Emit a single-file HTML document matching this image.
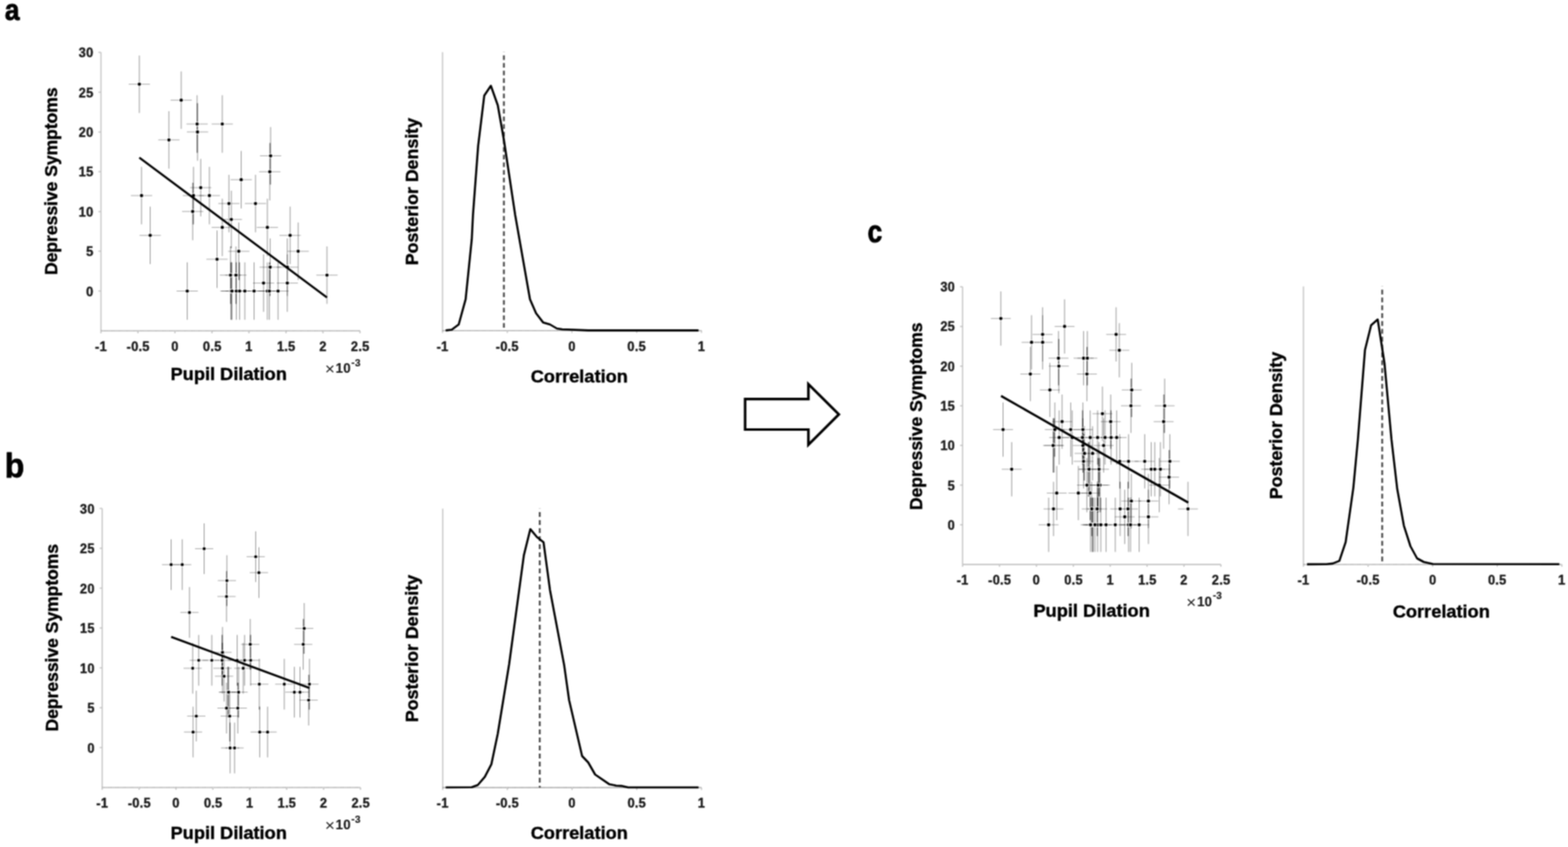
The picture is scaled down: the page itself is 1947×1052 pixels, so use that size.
<!DOCTYPE html>
<html lang="en">
<head>
<meta charset="utf-8">
<title>Pupil dilation and depressive symptoms</title>
<style>
html,body{margin:0;padding:0;background:#fff;}
body{width:1947px;height:1052px;overflow:hidden;}
svg{display:block;}
</style>
</head>
<body>
<svg width="1947" height="1052" viewBox="0 0 1947 1052" role="img" aria-label="Pupil dilation versus depressive symptoms with posterior densities of the correlation">
<defs><filter id="soft" filterUnits="userSpaceOnUse" x="0" y="0" width="1947" height="1052" color-interpolation-filters="sRGB"><feConvolveMatrix order="3" kernelMatrix="1 2 1 2 4 2 1 2 1" divisor="16" edgeMode="duplicate" preserveAlpha="false"/></filter></defs>
<g filter="url(#soft)">
<rect width="1947" height="1052" fill="#fff"/>
<g font-family='"Liberation Sans", sans-serif' font-weight="700" font-size="43" fill="#000">
<text transform="translate(6.0 25.4) scale(0.76 0.868)" stroke="#000" stroke-width="1.2" stroke-linejoin="round">a</text>
<text transform="translate(6.0 593.0) scale(0.925 0.975)" stroke="#000" stroke-width="0.8" stroke-linejoin="round">b</text>
<text transform="translate(1077.2 301.3) scale(0.76 0.895)" stroke="#000" stroke-width="1.2" stroke-linejoin="round">c</text>
</g>
<g id="pa">
<g stroke="#c4c4c4" stroke-width="1.5" fill="none">
<path d="M125.4 65.1V410.9"/>
<path d="M125.4 410.9H447" stroke="#8c8c8c" stroke-width="1.4" stroke-dasharray="1.3 0.5"/>
<path d="M125.4 410.9v3M171.34 410.9v3M217.29 410.9v3M263.23 410.9v3M309.17 410.9v3M355.11 410.9v3M401.06 410.9v3M447 410.9v3M125.4 361.5h-3.2M125.4 312.1h-3.2M125.4 262.7h-3.2M125.4 213.3h-3.2M125.4 163.9h-3.2M125.4 114.5h-3.2M125.4 65.1h-3.2"/>
</g>
<g font-family='"Liberation Sans", sans-serif' font-weight="700" font-size="15.8" letter-spacing="0.35" fill="#1c1c1c" stroke="#1c1c1c" stroke-width="0.45">
<g text-anchor="middle">
<text x="125.4" y="436">-1</text>
<text x="171.64" y="436">-0.5</text>
<text x="217.29" y="436">0</text>
<text x="263.53" y="436">0.5</text>
<text x="309.17" y="436">1</text>
<text x="355.41" y="436">1.5</text>
<text x="401.06" y="436">2</text>
<text x="447.3" y="436">2.5</text>
</g><g text-anchor="end">
<text x="116.1" y="367.5">0</text>
<text x="116.1" y="318.1">5</text>
<text x="116.1" y="268.7">10</text>
<text x="116.1" y="219.3">15</text>
<text x="116.1" y="169.9">20</text>
<text x="116.1" y="120.5">25</text>
<text x="116.1" y="71.1">30</text>
</g>
<text x="409.7" y="465.1" font-weight="400" font-size="21" text-anchor="middle" stroke="none">×</text>
<text x="416.7" y="462.5" font-size="16.4" stroke-width="0.2">10</text>
<text x="436.2" y="455.3" font-size="12.4" stroke-width="0.2">-3</text>
</g>
<g font-family='"Liberation Sans", sans-serif' font-weight="700" font-size="21.4" fill="#000" stroke="#000" stroke-width="0.45" text-anchor="middle">
<text x="284" y="471.6" textLength="144.5" lengthAdjust="spacingAndGlyphs">Pupil Dilation</text>
<text transform="translate(70.9 225) rotate(-90)" textLength="232.8" lengthAdjust="spacingAndGlyphs">Depressive Symptoms</text>
</g>
<g stroke="#000" stroke-opacity="0.82" stroke-width="0.5" fill="none">
<path d="M173 68.92v71.4"/>
<path d="M159.8 104.62h26.4" stroke-opacity="0.68"/>
<path d="M225 88.68v71.4"/>
<path d="M211.8 124.38h26.4" stroke-opacity="0.68"/>
<path d="M244.75 118.32v71.4"/>
<path d="M231.55 154.02h26.4" stroke-opacity="0.68"/>
<path d="M276 118.32v71.4"/>
<path d="M262.8 154.02h26.4" stroke-opacity="0.68"/>
<path d="M245.25 128.2v71.4"/>
<path d="M232.05 163.9h26.4" stroke-opacity="0.68"/>
<path d="M209.75 138.08v71.4"/>
<path d="M196.55 173.78h26.4" stroke-opacity="0.68"/>
<path d="M336 157.84v71.4"/>
<path d="M322.8 193.54h26.4" stroke-opacity="0.68"/>
<path d="M335 177.6v71.4"/>
<path d="M321.8 213.3h26.4" stroke-opacity="0.68"/>
<path d="M299.5 187.48v71.4"/>
<path d="M286.3 223.18h26.4" stroke-opacity="0.68"/>
<path d="M249.25 197.36v71.4"/>
<path d="M236.05 233.06h26.4" stroke-opacity="0.68"/>
<path d="M175.75 207.24v71.4"/>
<path d="M162.55 242.94h26.4" stroke-opacity="0.68"/>
<path d="M240.25 207.24v71.4"/>
<path d="M227.05 242.94h26.4" stroke-opacity="0.68"/>
<path d="M260 207.24v71.4"/>
<path d="M246.8 242.94h26.4" stroke-opacity="0.68"/>
<path d="M284.25 217.12v71.4"/>
<path d="M271.05 252.82h26.4" stroke-opacity="0.68"/>
<path d="M317.25 217.12v71.4"/>
<path d="M304.05 252.82h26.4" stroke-opacity="0.68"/>
<path d="M239.25 227v71.4"/>
<path d="M226.05 262.7h26.4" stroke-opacity="0.68"/>
<path d="M287.25 236.88v71.4"/>
<path d="M274.05 272.58h26.4" stroke-opacity="0.68"/>
<path d="M276 246.76v71.4"/>
<path d="M262.8 282.46h26.4" stroke-opacity="0.68"/>
<path d="M332 246.76v71.4"/>
<path d="M318.8 282.46h26.4" stroke-opacity="0.68"/>
<path d="M186.5 256.64v71.4"/>
<path d="M173.3 292.34h26.4" stroke-opacity="0.68"/>
<path d="M360.25 256.64v71.4"/>
<path d="M347.05 292.34h26.4" stroke-opacity="0.68"/>
<path d="M296.5 276.4v71.4"/>
<path d="M283.3 312.1h26.4" stroke-opacity="0.68"/>
<path d="M370.25 276.4v71.4"/>
<path d="M357.05 312.1h26.4" stroke-opacity="0.68"/>
<path d="M269.5 286.28v71.4"/>
<path d="M256.3 321.98h26.4" stroke-opacity="0.68"/>
<path d="M335.5 296.16v71.4"/>
<path d="M322.3 331.86h26.4" stroke-opacity="0.68"/>
<path d="M356.75 296.16v71.4"/>
<path d="M343.55 331.86h26.4" stroke-opacity="0.68"/>
<path d="M286.25 306.04v71.4"/>
<path d="M273.05 341.74h26.4" stroke-opacity="0.68"/>
<path d="M293 306.04v71.4"/>
<path d="M279.8 341.74h26.4" stroke-opacity="0.68"/>
<path d="M406 306.04v71.4"/>
<path d="M392.8 341.74h26.4" stroke-opacity="0.68"/>
<path d="M327.25 315.92v71.4"/>
<path d="M314.05 351.62h26.4" stroke-opacity="0.68"/>
<path d="M356.75 315.92v71.4"/>
<path d="M343.55 351.62h26.4" stroke-opacity="0.68"/>
<path d="M232.5 325.8v71.4"/>
<path d="M219.3 361.5h26.4" stroke-opacity="0.68"/>
<path d="M286.75 325.8v71.4"/>
<path d="M273.55 361.5h26.4" stroke-opacity="0.68"/>
<path d="M288 325.8v71.4"/>
<path d="M274.8 361.5h26.4" stroke-opacity="0.68"/>
<path d="M293.5 325.8v71.4"/>
<path d="M280.3 361.5h26.4" stroke-opacity="0.68"/>
<path d="M297.5 325.8v71.4"/>
<path d="M284.3 361.5h26.4" stroke-opacity="0.68"/>
<path d="M304 325.8v71.4"/>
<path d="M290.8 361.5h26.4" stroke-opacity="0.68"/>
<path d="M315.5 325.8v71.4"/>
<path d="M302.3 361.5h26.4" stroke-opacity="0.68"/>
<path d="M332 325.8v71.4"/>
<path d="M318.8 361.5h26.4" stroke-opacity="0.68"/>
<path d="M334.5 325.8v71.4"/>
<path d="M321.3 361.5h26.4" stroke-opacity="0.68"/>
<path d="M345.25 325.8v71.4"/>
<path d="M332.05 361.5h26.4" stroke-opacity="0.68"/>
</g>
<path d="M245 128.2V189.72M335.5 177.6V229.24M239.75 227V278.64M286.75 306.04V308.28M297 325.8V347.8M335 325.8V367.56M286.5 325.8V377.44M293.25 325.8V377.44M287.38 325.8V397.2" stroke="#000" stroke-opacity="0.42" stroke-width="1.0" fill="none"/>
<g fill="#000" stroke="#fff" stroke-width="1.5" paint-order="stroke">
<circle cx="173" cy="104.62" r="2.1"/>
<circle cx="225" cy="124.38" r="2.1"/>
<circle cx="244.75" cy="154.02" r="2.1"/>
<circle cx="276" cy="154.02" r="2.1"/>
<circle cx="245.25" cy="163.9" r="2.1"/>
<circle cx="209.75" cy="173.78" r="2.1"/>
<circle cx="336" cy="193.54" r="2.1"/>
<circle cx="335" cy="213.3" r="2.1"/>
<circle cx="299.5" cy="223.18" r="2.1"/>
<circle cx="249.25" cy="233.06" r="2.1"/>
<circle cx="175.75" cy="242.94" r="2.1"/>
<circle cx="240.25" cy="242.94" r="2.1"/>
<circle cx="260" cy="242.94" r="2.1"/>
<circle cx="284.25" cy="252.82" r="2.1"/>
<circle cx="317.25" cy="252.82" r="2.1"/>
<circle cx="239.25" cy="262.7" r="2.1"/>
<circle cx="287.25" cy="272.58" r="2.1"/>
<circle cx="276" cy="282.46" r="2.1"/>
<circle cx="332" cy="282.46" r="2.1"/>
<circle cx="186.5" cy="292.34" r="2.1"/>
<circle cx="360.25" cy="292.34" r="2.1"/>
<circle cx="296.5" cy="312.1" r="2.1"/>
<circle cx="370.25" cy="312.1" r="2.1"/>
<circle cx="269.5" cy="321.98" r="2.1"/>
<circle cx="335.5" cy="331.86" r="2.1"/>
<circle cx="356.75" cy="331.86" r="2.1"/>
<circle cx="286.25" cy="341.74" r="2.1"/>
<circle cx="293" cy="341.74" r="2.1"/>
<circle cx="406" cy="341.74" r="2.1"/>
<circle cx="327.25" cy="351.62" r="2.1"/>
<circle cx="356.75" cy="351.62" r="2.1"/>
<circle cx="232.5" cy="361.5" r="2.1"/>
<circle cx="286.75" cy="361.5" r="2.1"/>
<circle cx="288" cy="361.5" r="2.1"/>
<circle cx="293.5" cy="361.5" r="2.1"/>
<circle cx="297.5" cy="361.5" r="2.1"/>
<circle cx="304" cy="361.5" r="2.1"/>
<circle cx="315.5" cy="361.5" r="2.1"/>
<circle cx="332" cy="361.5" r="2.1"/>
<circle cx="334.5" cy="361.5" r="2.1"/>
<circle cx="345.25" cy="361.5" r="2.1"/>
</g>
<path d="M173 195.75L406 369.5" stroke="#000" stroke-width="2.7" fill="none"/>
<g stroke="#c4c4c4" stroke-width="1.5" fill="none">
<path d="M549.5 64.8V413.6"/>
<path d="M549.5 410.6H871" stroke="#8c8c8c" stroke-width="1.4" stroke-dasharray="1.3 0.5"/>
<path d="M629.88 410.6v3M710.25 410.6v3M790.62 410.6v3M871 410.6v3"/>
</g>
<path d="M625.7 64.8V410.6" stroke="#4a4a4a" stroke-width="2.3" stroke-dasharray="5.8 3.7" stroke-dashoffset="5.6" fill="none"/>
<polyline points="553.4,410.4 560.9,409.5 569.6,403 578.2,371.7 585.8,297.2 587.3,267 593.7,181.4 601.3,118.8 609.5,106.5 618.1,130.7 625.7,173.8 639.7,267 658.1,371.7 665.6,389 674.3,400.4 682.9,403 691.5,408 698,409 730.4,410.4 867.4,410.4" stroke="#000" stroke-width="2.6" stroke-linejoin="round" fill="none"/>
<g font-family='"Liberation Sans", sans-serif' font-weight="700" font-size="15.8" letter-spacing="0.35" fill="#1c1c1c" stroke="#1c1c1c" stroke-width="0.45" text-anchor="middle">
<text x="549.5" y="435.7">-1</text>
<text x="629.88" y="435.7">-0.5</text>
<text x="710.25" y="435.7">0</text>
<text x="790.62" y="435.7">0.5</text>
<text x="871" y="435.7">1</text>
</g>
<g font-family='"Liberation Sans", sans-serif' font-weight="700" font-size="21.4" fill="#000" stroke="#000" stroke-width="0.45" text-anchor="middle">
<text x="719.3" y="474.7" textLength="120.5" lengthAdjust="spacingAndGlyphs">Correlation</text>
<text transform="translate(518.6 238) rotate(-90)" textLength="183" lengthAdjust="spacingAndGlyphs">Posterior Density</text>
</g>
</g>
<g id="pb">
<g stroke="#c4c4c4" stroke-width="1.5" fill="none">
<path d="M126.9 631.6V978.1"/>
<path d="M126.9 978.1H447.6" stroke="#8c8c8c" stroke-width="1.4" stroke-dasharray="1.3 0.5"/>
<path d="M126.9 978.1v3M172.71 978.1v3M218.53 978.1v3M264.34 978.1v3M310.16 978.1v3M355.97 978.1v3M401.79 978.1v3M447.6 978.1v3M126.9 928.6h-3.2M126.9 879.1h-3.2M126.9 829.6h-3.2M126.9 780.1h-3.2M126.9 730.6h-3.2M126.9 681.1h-3.2M126.9 631.6h-3.2"/>
</g>
<g font-family='"Liberation Sans", sans-serif' font-weight="700" font-size="15.8" letter-spacing="0.35" fill="#1c1c1c" stroke="#1c1c1c" stroke-width="0.45">
<g text-anchor="middle">
<text x="126.9" y="1003.2">-1</text>
<text x="173.01" y="1003.2">-0.5</text>
<text x="218.53" y="1003.2">0</text>
<text x="264.64" y="1003.2">0.5</text>
<text x="310.16" y="1003.2">1</text>
<text x="356.27" y="1003.2">1.5</text>
<text x="401.79" y="1003.2">2</text>
<text x="447.9" y="1003.2">2.5</text>
</g><g text-anchor="end">
<text x="117.6" y="934.6">0</text>
<text x="117.6" y="885.1">5</text>
<text x="117.6" y="835.6">10</text>
<text x="117.6" y="786.1">15</text>
<text x="117.6" y="736.6">20</text>
<text x="117.6" y="687.1">25</text>
<text x="117.6" y="637.6">30</text>
</g>
<text x="409.7" y="1032.1" font-weight="400" font-size="21" text-anchor="middle" stroke="none">×</text>
<text x="416.7" y="1029.5" font-size="16.4" stroke-width="0.2">10</text>
<text x="436.2" y="1022.3" font-size="12.4" stroke-width="0.2">-3</text>
</g>
<g font-family='"Liberation Sans", sans-serif' font-weight="700" font-size="21.4" fill="#000" stroke="#000" stroke-width="0.45" text-anchor="middle">
<text x="284" y="1042.3" textLength="144.5" lengthAdjust="spacingAndGlyphs">Pupil Dilation</text>
<text transform="translate(71.6 792) rotate(-90)" textLength="232.8" lengthAdjust="spacingAndGlyphs">Depressive Symptoms</text>
</g>
<g stroke="#000" stroke-opacity="0.82" stroke-width="0.5" fill="none">
<path d="M212.5 669.8v63"/>
<path d="M201.2 701.3h22.6" stroke-opacity="0.68"/>
<path d="M226.25 669.8v63"/>
<path d="M214.95 701.3h22.6" stroke-opacity="0.68"/>
<path d="M253.5 650v63"/>
<path d="M242.2 681.5h22.6" stroke-opacity="0.68"/>
<path d="M317.5 659.9v63"/>
<path d="M306.2 691.4h22.6" stroke-opacity="0.68"/>
<path d="M321.5 679.7v63"/>
<path d="M310.2 711.2h22.6" stroke-opacity="0.68"/>
<path d="M281.75 689.6v63"/>
<path d="M270.45 721.1h22.6" stroke-opacity="0.68"/>
<path d="M281.25 709.4v63"/>
<path d="M269.95 740.9h22.6" stroke-opacity="0.68"/>
<path d="M235.25 729.2v63"/>
<path d="M223.95 760.7h22.6" stroke-opacity="0.68"/>
<path d="M377.75 749v63"/>
<path d="M366.45 780.5h22.6" stroke-opacity="0.68"/>
<path d="M310.75 768.8v63"/>
<path d="M299.45 800.3h22.6" stroke-opacity="0.68"/>
<path d="M376.5 768.8v63"/>
<path d="M365.2 800.3h22.6" stroke-opacity="0.68"/>
<path d="M276.25 778.7v63"/>
<path d="M264.95 810.2h22.6" stroke-opacity="0.68"/>
<path d="M246.75 788.6v63"/>
<path d="M235.45 820.1h22.6" stroke-opacity="0.68"/>
<path d="M263 788.6v63"/>
<path d="M251.7 820.1h22.6" stroke-opacity="0.68"/>
<path d="M275.75 788.6v63"/>
<path d="M264.45 820.1h22.6" stroke-opacity="0.68"/>
<path d="M294.5 788.6v63"/>
<path d="M283.2 820.1h22.6" stroke-opacity="0.68"/>
<path d="M303.75 788.6v63"/>
<path d="M292.45 820.1h22.6" stroke-opacity="0.68"/>
<path d="M311.25 788.6v63"/>
<path d="M299.95 820.1h22.6" stroke-opacity="0.68"/>
<path d="M239.25 798.5v63"/>
<path d="M227.95 830h22.6" stroke-opacity="0.68"/>
<path d="M276.25 798.5v63"/>
<path d="M264.95 830h22.6" stroke-opacity="0.68"/>
<path d="M302 798.5v63"/>
<path d="M290.7 830h22.6" stroke-opacity="0.68"/>
<path d="M278.25 808.4v63"/>
<path d="M266.95 839.9h22.6" stroke-opacity="0.68"/>
<path d="M322 818.3v63"/>
<path d="M310.7 849.8h22.6" stroke-opacity="0.68"/>
<path d="M353 818.3v63"/>
<path d="M341.7 849.8h22.6" stroke-opacity="0.68"/>
<path d="M384.25 818.3v63"/>
<path d="M372.95 849.8h22.6" stroke-opacity="0.68"/>
<path d="M282.9 828.2v63"/>
<path d="M271.6 859.7h22.6" stroke-opacity="0.68"/>
<path d="M283.9 828.2v63"/>
<path d="M272.6 859.7h22.6" stroke-opacity="0.68"/>
<path d="M296.25 828.2v63"/>
<path d="M284.95 859.7h22.6" stroke-opacity="0.68"/>
<path d="M365.5 828.2v63"/>
<path d="M354.2 859.7h22.6" stroke-opacity="0.68"/>
<path d="M372.5 828.2v63"/>
<path d="M361.2 859.7h22.6" stroke-opacity="0.68"/>
<path d="M383.25 838.1v63"/>
<path d="M371.95 869.6h22.6" stroke-opacity="0.68"/>
<path d="M281.25 848v63"/>
<path d="M269.95 879.5h22.6" stroke-opacity="0.68"/>
<path d="M295.25 848v63"/>
<path d="M283.95 879.5h22.6" stroke-opacity="0.68"/>
<path d="M243.75 857.9v63"/>
<path d="M232.45 889.4h22.6" stroke-opacity="0.68"/>
<path d="M285.25 857.9v63"/>
<path d="M273.95 889.4h22.6" stroke-opacity="0.68"/>
<path d="M239.75 877.7v63"/>
<path d="M228.45 909.2h22.6" stroke-opacity="0.68"/>
<path d="M322.5 877.7v63"/>
<path d="M311.2 909.2h22.6" stroke-opacity="0.68"/>
<path d="M332.25 877.7v63"/>
<path d="M320.95 909.2h22.6" stroke-opacity="0.68"/>
<path d="M285.75 897.5v63"/>
<path d="M274.45 929h22.6" stroke-opacity="0.68"/>
<path d="M291.25 897.5v63"/>
<path d="M279.95 929h22.6" stroke-opacity="0.68"/>
</g>
<path d="M281.5 709.4V752.6M377.12 768.8V812M311 788.6V831.8M276 788.6V841.7M276 798.5V851.6M294.88 848V851.6M322.25 877.7V881.3M383.75 838.1V881.3M283.4 828.2V891.2M295.75 848V891.2M285.5 897.5V920.9" stroke="#000" stroke-opacity="0.42" stroke-width="1.0" fill="none"/>
<g fill="#000" stroke="#fff" stroke-width="1.5" paint-order="stroke">
<circle cx="212.5" cy="701.3" r="1.95"/>
<circle cx="226.25" cy="701.3" r="1.95"/>
<circle cx="253.5" cy="681.5" r="1.95"/>
<circle cx="317.5" cy="691.4" r="1.95"/>
<circle cx="321.5" cy="711.2" r="1.95"/>
<circle cx="281.75" cy="721.1" r="1.95"/>
<circle cx="281.25" cy="740.9" r="1.95"/>
<circle cx="235.25" cy="760.7" r="1.95"/>
<circle cx="377.75" cy="780.5" r="1.95"/>
<circle cx="310.75" cy="800.3" r="1.95"/>
<circle cx="376.5" cy="800.3" r="1.95"/>
<circle cx="276.25" cy="810.2" r="1.95"/>
<circle cx="246.75" cy="820.1" r="1.95"/>
<circle cx="263" cy="820.1" r="1.95"/>
<circle cx="275.75" cy="820.1" r="1.95"/>
<circle cx="294.5" cy="820.1" r="1.95"/>
<circle cx="303.75" cy="820.1" r="1.95"/>
<circle cx="311.25" cy="820.1" r="1.95"/>
<circle cx="239.25" cy="830" r="1.95"/>
<circle cx="276.25" cy="830" r="1.95"/>
<circle cx="302" cy="830" r="1.95"/>
<circle cx="278.25" cy="839.9" r="1.95"/>
<circle cx="322" cy="849.8" r="1.95"/>
<circle cx="353" cy="849.8" r="1.95"/>
<circle cx="384.25" cy="849.8" r="1.95"/>
<circle cx="282.9" cy="859.7" r="1.95"/>
<circle cx="283.9" cy="859.7" r="1.95"/>
<circle cx="296.25" cy="859.7" r="1.95"/>
<circle cx="365.5" cy="859.7" r="1.95"/>
<circle cx="372.5" cy="859.7" r="1.95"/>
<circle cx="383.25" cy="869.6" r="1.95"/>
<circle cx="281.25" cy="879.5" r="1.95"/>
<circle cx="295.25" cy="879.5" r="1.95"/>
<circle cx="243.75" cy="889.4" r="1.95"/>
<circle cx="285.25" cy="889.4" r="1.95"/>
<circle cx="239.75" cy="909.2" r="1.95"/>
<circle cx="322.5" cy="909.2" r="1.95"/>
<circle cx="332.25" cy="909.2" r="1.95"/>
<circle cx="285.75" cy="929" r="1.95"/>
<circle cx="291.25" cy="929" r="1.95"/>
</g>
<path d="M212.5 791L384.25 854.5" stroke="#000" stroke-width="2.7" fill="none"/>
<g stroke="#c4c4c4" stroke-width="1.5" fill="none">
<path d="M549.7 631.7V981.2"/>
<path d="M549.7 978.2H871" stroke="#8c8c8c" stroke-width="1.4" stroke-dasharray="1.3 0.5"/>
<path d="M630.03 978.2v3M710.35 978.2v3M790.67 978.2v3M871 978.2v3"/>
</g>
<path d="M670.2 631.7V978.2" stroke="#4a4a4a" stroke-width="2.3" stroke-dasharray="5.8 4.2" stroke-dashoffset="5.6" fill="none"/>
<polyline points="553.4,978 585.8,977.8 593.3,975 602,964.9 610.2,949.1 618.1,911.3 632.2,825 650.5,689.6 658.5,657.2 666.7,667 674.9,673.4 682.9,732.7 700.6,826.6 706.6,869.2 722.8,939 730.4,947 739,962 756.3,973.9 764.9,975.7 771.4,976.1 780,978 867.4,978" stroke="#000" stroke-width="2.6" stroke-linejoin="round" fill="none"/>
<g font-family='"Liberation Sans", sans-serif' font-weight="700" font-size="15.8" letter-spacing="0.35" fill="#1c1c1c" stroke="#1c1c1c" stroke-width="0.45" text-anchor="middle">
<text x="549.7" y="1003.3">-1</text>
<text x="630.03" y="1003.3">-0.5</text>
<text x="710.35" y="1003.3">0</text>
<text x="790.67" y="1003.3">0.5</text>
<text x="871" y="1003.3">1</text>
</g>
<g font-family='"Liberation Sans", sans-serif' font-weight="700" font-size="21.4" fill="#000" stroke="#000" stroke-width="0.45" text-anchor="middle">
<text x="719.3" y="1041.7" textLength="120.5" lengthAdjust="spacingAndGlyphs">Correlation</text>
<text transform="translate(518.6 805.5) rotate(-90)" textLength="183" lengthAdjust="spacingAndGlyphs">Posterior Density</text>
</g>
</g>
<g id="pc">
<g stroke="#c4c4c4" stroke-width="1.5" fill="none">
<path d="M1195.3 356.2V701.1"/>
<path d="M1195.3 701.1H1516" stroke-width="1.7"/>
<path d="M1195.3 701.1v3M1241.11 701.1v3M1286.93 701.1v3M1332.74 701.1v3M1378.56 701.1v3M1424.37 701.1v3M1470.19 701.1v3M1516 701.1v3M1195.3 651.83h-3.2M1195.3 602.56h-3.2M1195.3 553.29h-3.2M1195.3 504.01h-3.2M1195.3 454.74h-3.2M1195.3 405.47h-3.2M1195.3 356.2h-3.2"/>
</g>
<g font-family='"Liberation Sans", sans-serif' font-weight="700" font-size="15.8" letter-spacing="0.35" fill="#1c1c1c" stroke="#1c1c1c" stroke-width="0.45">
<g text-anchor="middle">
<text x="1195.3" y="726.2">-1</text>
<text x="1241.41" y="726.2">-0.5</text>
<text x="1286.93" y="726.2">0</text>
<text x="1333.04" y="726.2">0.5</text>
<text x="1378.56" y="726.2">1</text>
<text x="1424.67" y="726.2">1.5</text>
<text x="1470.19" y="726.2">2</text>
<text x="1516.3" y="726.2">2.5</text>
</g><g text-anchor="end">
<text x="1186" y="657.83">0</text>
<text x="1186" y="608.56">5</text>
<text x="1186" y="559.29">10</text>
<text x="1186" y="510.01">15</text>
<text x="1186" y="460.74">20</text>
<text x="1186" y="411.47">25</text>
<text x="1186" y="362.2">30</text>
</g>
<text x="1479.4" y="755.3" font-weight="400" font-size="21" text-anchor="middle" stroke="none">×</text>
<text x="1486.4" y="752.7" font-size="16.4" stroke-width="0.2">10</text>
<text x="1505.9" y="744.1" font-size="12.4" stroke-width="0.2">-3</text>
</g>
<g font-family='"Liberation Sans", sans-serif' font-weight="700" font-size="21.4" fill="#000" stroke="#000" stroke-width="0.45" text-anchor="middle">
<text x="1355.5" y="766" textLength="144.5" lengthAdjust="spacingAndGlyphs">Pupil Dilation</text>
<text transform="translate(1145.1 517) rotate(-90)" textLength="232.8" lengthAdjust="spacingAndGlyphs">Depressive Symptoms</text>
</g>
<g stroke="#000" stroke-opacity="0.82" stroke-width="0.5" fill="none">
<path d="M1242.77 361.92v67.4"/>
<path d="M1230.42 395.62h24.7" stroke-opacity="0.68"/>
<path d="M1294.62 381.63v67.4"/>
<path d="M1282.27 415.33h24.7" stroke-opacity="0.68"/>
<path d="M1314.32 411.19v67.4"/>
<path d="M1301.97 444.89h24.7" stroke-opacity="0.68"/>
<path d="M1345.48 411.19v67.4"/>
<path d="M1333.13 444.89h24.7" stroke-opacity="0.68"/>
<path d="M1314.81 421.04v67.4"/>
<path d="M1302.46 454.74h24.7" stroke-opacity="0.68"/>
<path d="M1279.41 430.9v67.4"/>
<path d="M1267.06 464.6h24.7" stroke-opacity="0.68"/>
<path d="M1405.31 450.61v67.4"/>
<path d="M1392.96 484.31h24.7" stroke-opacity="0.68"/>
<path d="M1404.31 470.31v67.4"/>
<path d="M1391.96 504.01h24.7" stroke-opacity="0.68"/>
<path d="M1368.91 480.17v67.4"/>
<path d="M1356.56 513.87h24.7" stroke-opacity="0.68"/>
<path d="M1318.8 490.02v67.4"/>
<path d="M1306.45 523.72h24.7" stroke-opacity="0.68"/>
<path d="M1245.51 499.88v67.4"/>
<path d="M1233.16 533.58h24.7" stroke-opacity="0.68"/>
<path d="M1309.83 499.88v67.4"/>
<path d="M1297.48 533.58h24.7" stroke-opacity="0.68"/>
<path d="M1329.52 499.88v67.4"/>
<path d="M1317.17 533.58h24.7" stroke-opacity="0.68"/>
<path d="M1353.71 509.73v67.4"/>
<path d="M1341.36 543.43h24.7" stroke-opacity="0.68"/>
<path d="M1386.61 509.73v67.4"/>
<path d="M1374.26 543.43h24.7" stroke-opacity="0.68"/>
<path d="M1308.83 519.59v67.4"/>
<path d="M1296.48 553.29h24.7" stroke-opacity="0.68"/>
<path d="M1356.7 529.44v67.4"/>
<path d="M1344.35 563.14h24.7" stroke-opacity="0.68"/>
<path d="M1345.48 539.29v67.4"/>
<path d="M1333.13 572.99h24.7" stroke-opacity="0.68"/>
<path d="M1401.32 539.29v67.4"/>
<path d="M1388.97 572.99h24.7" stroke-opacity="0.68"/>
<path d="M1256.23 549.15v67.4"/>
<path d="M1243.88 582.85h24.7" stroke-opacity="0.68"/>
<path d="M1429.49 549.15v67.4"/>
<path d="M1417.14 582.85h24.7" stroke-opacity="0.68"/>
<path d="M1365.92 568.86v67.4"/>
<path d="M1353.57 602.56h24.7" stroke-opacity="0.68"/>
<path d="M1439.46 568.86v67.4"/>
<path d="M1427.11 602.56h24.7" stroke-opacity="0.68"/>
<path d="M1339 578.71v67.4"/>
<path d="M1326.65 612.41h24.7" stroke-opacity="0.68"/>
<path d="M1404.81 588.57v67.4"/>
<path d="M1392.46 622.27h24.7" stroke-opacity="0.68"/>
<path d="M1426 588.57v67.4"/>
<path d="M1413.65 622.27h24.7" stroke-opacity="0.68"/>
<path d="M1355.7 598.42v67.4"/>
<path d="M1343.35 632.12h24.7" stroke-opacity="0.68"/>
<path d="M1362.43 598.42v67.4"/>
<path d="M1350.08 632.12h24.7" stroke-opacity="0.68"/>
<path d="M1475.11 598.42v67.4"/>
<path d="M1462.76 632.12h24.7" stroke-opacity="0.68"/>
<path d="M1396.59 608.27v67.4"/>
<path d="M1384.24 641.97h24.7" stroke-opacity="0.68"/>
<path d="M1426 608.27v67.4"/>
<path d="M1413.65 641.97h24.7" stroke-opacity="0.68"/>
<path d="M1302.1 618.13v67.4"/>
<path d="M1289.75 651.83h24.7" stroke-opacity="0.68"/>
<path d="M1356.2 618.13v67.4"/>
<path d="M1343.85 651.83h24.7" stroke-opacity="0.68"/>
<path d="M1357.44 618.13v67.4"/>
<path d="M1345.09 651.83h24.7" stroke-opacity="0.68"/>
<path d="M1362.93 618.13v67.4"/>
<path d="M1350.58 651.83h24.7" stroke-opacity="0.68"/>
<path d="M1366.92 618.13v67.4"/>
<path d="M1354.57 651.83h24.7" stroke-opacity="0.68"/>
<path d="M1373.4 618.13v67.4"/>
<path d="M1361.05 651.83h24.7" stroke-opacity="0.68"/>
<path d="M1384.87 618.13v67.4"/>
<path d="M1372.52 651.83h24.7" stroke-opacity="0.68"/>
<path d="M1401.32 618.13v67.4"/>
<path d="M1388.97 651.83h24.7" stroke-opacity="0.68"/>
<path d="M1403.81 618.13v67.4"/>
<path d="M1391.46 651.83h24.7" stroke-opacity="0.68"/>
<path d="M1414.53 618.13v67.4"/>
<path d="M1402.18 651.83h24.7" stroke-opacity="0.68"/>
<path d="M1280.9 391.48v67.4"/>
<path d="M1268.55 425.18h24.7" stroke-opacity="0.68"/>
<path d="M1294.65 391.48v67.4"/>
<path d="M1282.3 425.18h24.7" stroke-opacity="0.68"/>
<path d="M1321.9 371.77v67.4"/>
<path d="M1309.55 405.47h24.7" stroke-opacity="0.68"/>
<path d="M1385.9 381.63v67.4"/>
<path d="M1373.55 415.33h24.7" stroke-opacity="0.68"/>
<path d="M1389.9 401.33v67.4"/>
<path d="M1377.55 435.03h24.7" stroke-opacity="0.68"/>
<path d="M1350.15 411.19v67.4"/>
<path d="M1337.8 444.89h24.7" stroke-opacity="0.68"/>
<path d="M1349.65 430.9v67.4"/>
<path d="M1337.3 464.6h24.7" stroke-opacity="0.68"/>
<path d="M1303.65 450.61v67.4"/>
<path d="M1291.3 484.31h24.7" stroke-opacity="0.68"/>
<path d="M1446.15 470.31v67.4"/>
<path d="M1433.8 504.01h24.7" stroke-opacity="0.68"/>
<path d="M1379.15 490.02v67.4"/>
<path d="M1366.8 523.72h24.7" stroke-opacity="0.68"/>
<path d="M1444.9 490.02v67.4"/>
<path d="M1432.55 523.72h24.7" stroke-opacity="0.68"/>
<path d="M1344.65 499.88v67.4"/>
<path d="M1332.3 533.58h24.7" stroke-opacity="0.68"/>
<path d="M1315.15 509.73v67.4"/>
<path d="M1302.8 543.43h24.7" stroke-opacity="0.68"/>
<path d="M1331.4 509.73v67.4"/>
<path d="M1319.05 543.43h24.7" stroke-opacity="0.68"/>
<path d="M1344.15 509.73v67.4"/>
<path d="M1331.8 543.43h24.7" stroke-opacity="0.68"/>
<path d="M1362.9 509.73v67.4"/>
<path d="M1350.55 543.43h24.7" stroke-opacity="0.68"/>
<path d="M1372.15 509.73v67.4"/>
<path d="M1359.8 543.43h24.7" stroke-opacity="0.68"/>
<path d="M1379.65 509.73v67.4"/>
<path d="M1367.3 543.43h24.7" stroke-opacity="0.68"/>
<path d="M1307.65 519.59v67.4"/>
<path d="M1295.3 553.29h24.7" stroke-opacity="0.68"/>
<path d="M1344.65 519.59v67.4"/>
<path d="M1332.3 553.29h24.7" stroke-opacity="0.68"/>
<path d="M1370.4 519.59v67.4"/>
<path d="M1358.05 553.29h24.7" stroke-opacity="0.68"/>
<path d="M1346.65 529.44v67.4"/>
<path d="M1334.3 563.14h24.7" stroke-opacity="0.68"/>
<path d="M1390.4 539.29v67.4"/>
<path d="M1378.05 572.99h24.7" stroke-opacity="0.68"/>
<path d="M1421.4 539.29v67.4"/>
<path d="M1409.05 572.99h24.7" stroke-opacity="0.68"/>
<path d="M1452.65 539.29v67.4"/>
<path d="M1440.3 572.99h24.7" stroke-opacity="0.68"/>
<path d="M1351.3 549.15v67.4"/>
<path d="M1338.95 582.85h24.7" stroke-opacity="0.68"/>
<path d="M1352.3 549.15v67.4"/>
<path d="M1339.95 582.85h24.7" stroke-opacity="0.68"/>
<path d="M1364.65 549.15v67.4"/>
<path d="M1352.3 582.85h24.7" stroke-opacity="0.68"/>
<path d="M1433.9 549.15v67.4"/>
<path d="M1421.55 582.85h24.7" stroke-opacity="0.68"/>
<path d="M1440.9 549.15v67.4"/>
<path d="M1428.55 582.85h24.7" stroke-opacity="0.68"/>
<path d="M1451.65 559v67.4"/>
<path d="M1439.3 592.7h24.7" stroke-opacity="0.68"/>
<path d="M1349.65 568.86v67.4"/>
<path d="M1337.3 602.56h24.7" stroke-opacity="0.68"/>
<path d="M1363.65 568.86v67.4"/>
<path d="M1351.3 602.56h24.7" stroke-opacity="0.68"/>
<path d="M1312.15 578.71v67.4"/>
<path d="M1299.8 612.41h24.7" stroke-opacity="0.68"/>
<path d="M1353.65 578.71v67.4"/>
<path d="M1341.3 612.41h24.7" stroke-opacity="0.68"/>
<path d="M1308.15 598.42v67.4"/>
<path d="M1295.8 632.12h24.7" stroke-opacity="0.68"/>
<path d="M1390.9 598.42v67.4"/>
<path d="M1378.55 632.12h24.7" stroke-opacity="0.68"/>
<path d="M1400.65 598.42v67.4"/>
<path d="M1388.3 632.12h24.7" stroke-opacity="0.68"/>
<path d="M1354.15 618.13v67.4"/>
<path d="M1341.8 651.83h24.7" stroke-opacity="0.68"/>
<path d="M1359.65 618.13v67.4"/>
<path d="M1347.3 651.83h24.7" stroke-opacity="0.68"/>
</g>
<path d="M1314.57 421.04V478.59M1404.81 470.31V518.01M1309.33 519.59V567.28M1308.24 519.59V586.99M1345.06 539.29V567.28M1345.06 539.29V586.99M1346.06 539.29V596.84M1400.99 598.42V606.69M1366.42 618.13V636.26M1365.29 568.86V616.55M1404.31 618.13V655.97M1355.95 618.13V665.82M1362.68 618.13V665.82M1363.04 598.42V636.26M1356.82 618.13V685.53M1363.29 618.13V636.26M1400.99 618.13V665.82M1349.9 430.9V478.59M1445.52 490.02V537.71M1379.4 509.73V557.42M1344.4 509.73V567.28M1344.4 519.59V577.13M1363.27 568.86V577.13M1390.65 598.42V606.69M1452.15 559V606.69M1351.8 549.15V616.55M1364.15 568.86V616.55M1353.9 618.13V646.11" stroke="#000" stroke-opacity="0.42" stroke-width="1.0" fill="none"/>
<g fill="#000" stroke="#fff" stroke-width="1.5" paint-order="stroke">
<circle cx="1242.77" cy="395.62" r="2.1"/>
<circle cx="1294.62" cy="415.33" r="2.1"/>
<circle cx="1314.32" cy="444.89" r="2.1"/>
<circle cx="1345.48" cy="444.89" r="2.1"/>
<circle cx="1314.81" cy="454.74" r="2.1"/>
<circle cx="1279.41" cy="464.6" r="2.1"/>
<circle cx="1405.31" cy="484.31" r="2.1"/>
<circle cx="1404.31" cy="504.01" r="2.1"/>
<circle cx="1368.91" cy="513.87" r="2.1"/>
<circle cx="1318.8" cy="523.72" r="2.1"/>
<circle cx="1245.51" cy="533.58" r="2.1"/>
<circle cx="1309.83" cy="533.58" r="2.1"/>
<circle cx="1329.52" cy="533.58" r="2.1"/>
<circle cx="1353.71" cy="543.43" r="2.1"/>
<circle cx="1386.61" cy="543.43" r="2.1"/>
<circle cx="1308.83" cy="553.29" r="2.1"/>
<circle cx="1356.7" cy="563.14" r="2.1"/>
<circle cx="1345.48" cy="572.99" r="2.1"/>
<circle cx="1401.32" cy="572.99" r="2.1"/>
<circle cx="1256.23" cy="582.85" r="2.1"/>
<circle cx="1429.49" cy="582.85" r="2.1"/>
<circle cx="1365.92" cy="602.56" r="2.1"/>
<circle cx="1439.46" cy="602.56" r="2.1"/>
<circle cx="1339" cy="612.41" r="2.1"/>
<circle cx="1404.81" cy="622.27" r="2.1"/>
<circle cx="1426" cy="622.27" r="2.1"/>
<circle cx="1355.7" cy="632.12" r="2.1"/>
<circle cx="1362.43" cy="632.12" r="2.1"/>
<circle cx="1475.11" cy="632.12" r="2.1"/>
<circle cx="1396.59" cy="641.97" r="2.1"/>
<circle cx="1426" cy="641.97" r="2.1"/>
<circle cx="1302.1" cy="651.83" r="2.1"/>
<circle cx="1356.2" cy="651.83" r="2.1"/>
<circle cx="1357.44" cy="651.83" r="2.1"/>
<circle cx="1362.93" cy="651.83" r="2.1"/>
<circle cx="1366.92" cy="651.83" r="2.1"/>
<circle cx="1373.4" cy="651.83" r="2.1"/>
<circle cx="1384.87" cy="651.83" r="2.1"/>
<circle cx="1401.32" cy="651.83" r="2.1"/>
<circle cx="1403.81" cy="651.83" r="2.1"/>
<circle cx="1414.53" cy="651.83" r="2.1"/>
<circle cx="1280.9" cy="425.18" r="2.1"/>
<circle cx="1294.65" cy="425.18" r="2.1"/>
<circle cx="1321.9" cy="405.47" r="2.1"/>
<circle cx="1385.9" cy="415.33" r="2.1"/>
<circle cx="1389.9" cy="435.03" r="2.1"/>
<circle cx="1350.15" cy="444.89" r="2.1"/>
<circle cx="1349.65" cy="464.6" r="2.1"/>
<circle cx="1303.65" cy="484.31" r="2.1"/>
<circle cx="1446.15" cy="504.01" r="2.1"/>
<circle cx="1379.15" cy="523.72" r="2.1"/>
<circle cx="1444.9" cy="523.72" r="2.1"/>
<circle cx="1344.65" cy="533.58" r="2.1"/>
<circle cx="1315.15" cy="543.43" r="2.1"/>
<circle cx="1331.4" cy="543.43" r="2.1"/>
<circle cx="1344.15" cy="543.43" r="2.1"/>
<circle cx="1362.9" cy="543.43" r="2.1"/>
<circle cx="1372.15" cy="543.43" r="2.1"/>
<circle cx="1379.65" cy="543.43" r="2.1"/>
<circle cx="1307.65" cy="553.29" r="2.1"/>
<circle cx="1344.65" cy="553.29" r="2.1"/>
<circle cx="1370.4" cy="553.29" r="2.1"/>
<circle cx="1346.65" cy="563.14" r="2.1"/>
<circle cx="1390.4" cy="572.99" r="2.1"/>
<circle cx="1421.4" cy="572.99" r="2.1"/>
<circle cx="1452.65" cy="572.99" r="2.1"/>
<circle cx="1351.3" cy="582.85" r="2.1"/>
<circle cx="1352.3" cy="582.85" r="2.1"/>
<circle cx="1364.65" cy="582.85" r="2.1"/>
<circle cx="1433.9" cy="582.85" r="2.1"/>
<circle cx="1440.9" cy="582.85" r="2.1"/>
<circle cx="1451.65" cy="592.7" r="2.1"/>
<circle cx="1349.65" cy="602.56" r="2.1"/>
<circle cx="1363.65" cy="602.56" r="2.1"/>
<circle cx="1312.15" cy="612.41" r="2.1"/>
<circle cx="1353.65" cy="612.41" r="2.1"/>
<circle cx="1308.15" cy="632.12" r="2.1"/>
<circle cx="1390.9" cy="632.12" r="2.1"/>
<circle cx="1400.65" cy="632.12" r="2.1"/>
<circle cx="1354.15" cy="651.83" r="2.1"/>
<circle cx="1359.65" cy="651.83" r="2.1"/>
</g>
<path d="M1243 491.75L1475.5 624.25" stroke="#000" stroke-width="2.7" fill="none"/>
<g stroke="#c4c4c4" stroke-width="1.5" fill="none">
<path d="M1618.5 355.7V704.1"/>
<path d="M1618.5 701.1H1939.4" stroke="#8c8c8c" stroke-width="1.4" stroke-dasharray="1.3 0.5"/>
<path d="M1698.72 701.1v3M1778.95 701.1v3M1859.18 701.1v3M1939.4 701.1v3"/>
</g>
<path d="M1716.3 355.7V701.1" stroke="#4a4a4a" stroke-width="2.3" stroke-dasharray="5.8 3.95" stroke-dashoffset="5.6" fill="none"/>
<polyline points="1623,700.9 1647,700.7 1654.9,699.9 1663.1,696.6 1670.9,673.4 1680.5,605.6 1686.1,546 1694.9,434.8 1702.5,404 1710.7,396.8 1719.2,451.8 1727.8,545.7 1735,607.6 1743.2,652.8 1751.4,678.5 1759.6,693.5 1767.9,698 1779.2,700.5 1936.3,700.7" stroke="#000" stroke-width="2.6" stroke-linejoin="round" fill="none"/>
<g font-family='"Liberation Sans", sans-serif' font-weight="700" font-size="15.8" letter-spacing="0.35" fill="#1c1c1c" stroke="#1c1c1c" stroke-width="0.45" text-anchor="middle">
<text x="1618.5" y="726.2">-1</text>
<text x="1698.72" y="726.2">-0.5</text>
<text x="1778.95" y="726.2">0</text>
<text x="1859.18" y="726.2">0.5</text>
<text x="1939.4" y="726.2">1</text>
</g>
<g font-family='"Liberation Sans", sans-serif' font-weight="700" font-size="21.4" fill="#000" stroke="#000" stroke-width="0.45" text-anchor="middle">
<text x="1789.7" y="767.1" textLength="120.5" lengthAdjust="spacingAndGlyphs">Correlation</text>
<text transform="translate(1592.3 528.5) rotate(-90)" textLength="183" lengthAdjust="spacingAndGlyphs">Posterior Density</text>
</g>
</g>
<path d="M925.2 495.7H1003.8V477.2L1041.6 514.7L1003.8 552.4V533.5H925.2Z" fill="#fff" stroke="#000" stroke-width="3.2" stroke-linejoin="miter"/>
</g>
</svg>
</body>
</html>
